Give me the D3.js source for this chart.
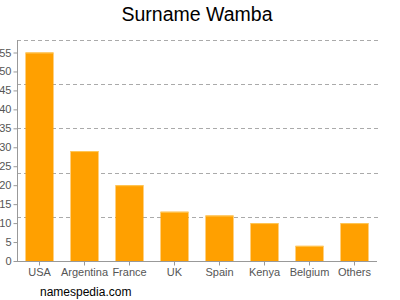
<!DOCTYPE html>
<html>
<head>
<meta charset="utf-8">
<script src="https://cdn.jsdelivr.net/npm/d3@7"></script>
<style>
  body { margin: 0; background: #fff; }
  svg { display: block; font-family: "Liberation Sans", Arial, sans-serif; }
</style>
</head>
<body>
<svg id="chart"></svg>
<script>
const countries = ['USA', 'Argentina', 'France', 'UK', 'Spain', 'Kenya', 'Belgium', 'Others'];
const counts = [55, 29, 20, 13, 12, 10, 4, 10];
const yTicks = [0, 5, 10, 15, 20, 25, 30, 35, 40, 45, 50, 55];

const margin = {top: 40, right: 23, bottom: 39, left: 17};
const width = 400 - margin.left - margin.right;
const height = 300 - margin.top - margin.bottom;

const svg = d3.select('#chart')
    .attr('width', 400)
    .attr('height', 300);

svg.append('text')
  .attr('x', 197)
  .attr('y', 21)
  .attr('text-anchor', 'middle')
  .attr('font-size', 19.5)
  .attr('fill', '#000')
  .text('Surname Wamba');

const g = svg.append('g')
  .attr('transform', 'translate(' + margin.left + ',' + margin.top + ')');

const yMax = d3.max(counts) * 1.06;

const xScale = d3.scaleBand()
  .domain(countries)
  .range([0, width])
  .paddingInner(0.378)
  .paddingOuter(0.189);

const yScale = d3.scaleLinear()
  .domain([0, yMax])
  .range([height, 0]);

// dashed grid, five equal steps
const gridVals = d3.range(1, 6).map(i => yMax * i / 5);
g.append('g')
  .selectAll('line')
  .data(gridVals)
  .enter().append('line')
    .attr('x1', 0)
    .attr('x2', width + 4)
    .attr('y1', d => Math.round(yScale(d)) + 0.5)
    .attr('y2', d => Math.round(yScale(d)) + 0.5)
    .attr('stroke', '#aaa')
    .attr('stroke-dasharray', '4,3');

g.append('g')
  .selectAll('rect')
  .data(counts)
  .enter().append('rect')
    .attr('x', (d, i) => xScale(countries[i]))
    .attr('y', d => yScale(d))
    .attr('width', xScale.bandwidth())
    .attr('height', d => height - yScale(d))
    .attr('fill', '#ffa000');

g.append('g')
  .selectAll('line')
  .data(counts)
  .enter().append('line')
    .attr('x1', (d, i) => xScale(countries[i]))
    .attr('x2', (d, i) => xScale(countries[i]) + xScale.bandwidth())
    .attr('y1', d => yScale(d) + 0.5)
    .attr('y2', d => yScale(d) + 0.5)
    .attr('stroke', '#ffc85a');

const yAxis = d3.axisLeft(yScale)
  .tickValues(yTicks)
  .tickSize(4)
  .tickPadding(2);

const yG = g.append('g')
  .attr('transform', 'translate(0.5,0)')
  .call(yAxis);
yG.select('.domain').attr('stroke', '#999').attr('d', 'M0,' + height + 'V0');
yG.selectAll('.tick line').attr('stroke', '#999');
yG.selectAll('.tick text').attr('fill', '#555').attr('font-size', 11);

const xAxis = d3.axisBottom(xScale).tickSize(4).tickPadding(3);
const xG = g.append('g')
  .attr('transform', 'translate(0,' + (height + 0.5) + ')')
  .call(xAxis);
xG.select('.domain').attr('stroke', '#999').attr('d', 'M0,0H' + width);
xG.selectAll('.tick line').attr('stroke', '#999');
xG.selectAll('.tick text').attr('fill', '#555').attr('font-size', 11);

svg.append('text')
  .attr('x', 40)
  .attr('y', 296)
  .attr('font-size', 12)
  .attr('fill', '#000')
  .text('namespedia.com');
</script>
</body>
</html>
